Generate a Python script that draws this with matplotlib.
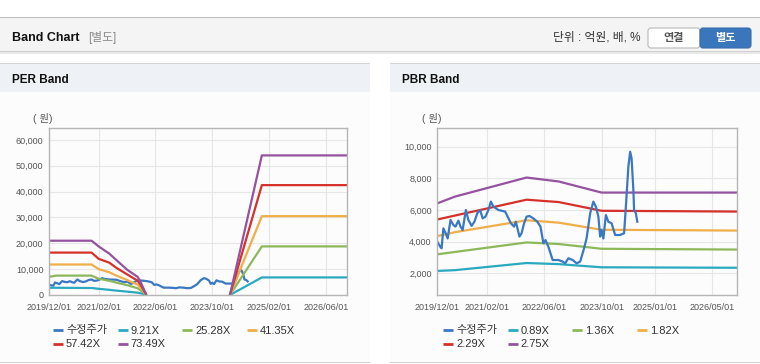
import numpy as np
import matplotlib
matplotlib.use('Agg')
import matplotlib.pyplot as plt
from matplotlib.patches import Rectangle, FancyBboxPatch
from matplotlib.ticker import FuncFormatter

plt.rcParams['font.family'] = ['Liberation Sans', 'Noto Sans CJK KR', 'DejaVu Sans']

# months since 2019/12/01
price_m = [0, 0.75, 1.2, 1.7, 2.4, 2.9, 3.7, 4.5, 5.1, 5.9, 6.5, 7.1, 8.0, 8.7, 9.6, 10.4,
           11.2, 12.0, 12.7, 13.5, 14.3, 15.0, 15.7, 17.1, 19.0, 19.7, 20.6, 21.5, 22.0,
           23.0, 23.6, 24.3, 25.0, 25.8, 26.9, 28.0, 28.9, 29.7, 30.3, 31.1, 32.3, 33.9,
           35.1, 35.8, 36.7, 37.9, 39.0, 40.0, 41.1, 41.8, 42.8, 43.7, 44.4, 45.1, 45.6,
           46.0, 46.5, 47.2, 47.9, 48.8, 49.8, 51.2, 52.3, 52.8, 53.5, 54.0, 54.4, 54.9,
           55.1, 55.6, 56.0]
price = [4000, 3700, 3580, 4840, 4500, 4200, 5370, 5050, 4950, 5330, 4950, 4740, 6000, 5370,
         5000, 5260, 5800, 6000, 5470, 5580, 6000, 6530, 6210, 6000, 5900, 5580, 5160, 4950,
         5260, 4320, 4530, 5160, 5580, 5620, 5470, 5260, 4950, 3900, 4100, 3680, 2840, 2840,
         2740, 2630, 2950, 2840, 2630, 2740, 3580, 4210, 5790, 6530, 6210, 5580, 4320, 4740,
         4200, 5680, 5260, 5160, 4420, 4420, 4530, 6210, 8740, 9680, 9260, 7260, 6000, 5790,
         5260]

# PER band
per_m = [0, 2, 12, 14, 17, 19, 22, 25, 26, 27.3, 27.4, 51, 60, 84]
per_labels = ['9.21X', '25.28X', '41.35X', '57.42X', '73.49X']
per_921 = [2800, 2800, 2700, 2400, 2000, 1700, 1300, 900, 600, 100, None, 0, 6800, 6800]
per_2528 = [7000, 7500, 7500, 6300, 5500, 4800, 3800, 2600, 1600, 200, None, 0, 18800, 18800]
per_4135 = [11800, 11800, 11800, 10000, 8800, 7500, 5800, 4000, 2500, 300, None, 0, 30500, 30500]
per_5742 = [16400, 16400, 16400, 14000, 12500, 10500, 8000, 5500, 3500, 400, None, 0, 42500, 42500]
per_7349 = [21000, 21000, 21000, 18800, 16000, 13500, 9800, 7000, 4500, 500, None, 0, 54000, 54000]

# PBR band
pbr_m = [0, 5, 25, 34, 46, 84]
pbr_labels = ['0.89X', '1.36X', '1.82X', '2.29X', '2.75X']
pbr_089 = [2150, 2200, 2650, 2580, 2380, 2350]
pbr_136 = [3200, 3350, 3950, 3850, 3550, 3500]
pbr_182 = [4350, 4600, 5350, 5200, 4750, 4700]
pbr_229 = [5400, 5650, 6650, 6500, 5950, 5900]
pbr_275 = [6420, 6850, 8050, 7800, 7100, 7100]

per_ticks = [0, 14, 30, 46, 62, 78]
per_ticklabels = ['2019/12/01', '2021/02/01', '2022/06/01', '2023/10/01', '2025/02/01', '2026/06/01']
pbr_ticks = [0, 14, 30, 46, 61, 77]
pbr_ticklabels = ['2019/12/01', '2021/02/01', '2022/06/01', '2023/10/01', '2025/01/01', '2026/05/01']

price_label = '수정주가'
colors = ['#3a78c4', '#2aa9bf', '#8db85a', '#f0ae48', '#d6302a', '#94529f']

W, H = 760, 364
fig = plt.figure(figsize=(W / 100, H / 100), dpi=100)
fig.patch.set_facecolor('white')

bg = fig.add_axes([0, 0, 1, 1], zorder=-1)
bg.set_xlim(0, W)
bg.set_ylim(H, 0)
bg.axis('off')


def rect(x0, y0, x1, y1, color, **kw):
    bg.add_patch(Rectangle((x0, y0), x1 - x0, y1 - y0, facecolor=color, edgecolor='none', **kw))


# top header
rect(0, 17, W, 18, '#bcbcbc')
rect(0, 18, W, 51, '#f4f4f4')
rect(0, 51, W, 52, '#cfcfcf')
rect(0, 52, W, 53.5, '#e9e9e9')
bg.text(12, 38, 'Band Chart', fontsize=9, fontweight='bold', va='center', color='#111')
bg.text(88, 38, '[별도]', fontsize=8.5, va='center', color='#8a8a8a')
bg.text(553, 38, '단위 : 억원, 배, %', fontsize=8.5, va='center', color='#333')
bg.add_patch(FancyBboxPatch((648, 28), 52, 20, boxstyle='round,pad=0,rounding_size=3',
                            facecolor='white', edgecolor='#b8b8b8', lw=0.8))
bg.add_patch(FancyBboxPatch((700, 28), 51, 20, boxstyle='round,pad=0,rounding_size=3',
                            facecolor='#3a76bb', edgecolor='#3a6ea8', lw=0.8))
bg.text(674, 38.5, '연결', fontsize=8, fontweight='bold', ha='center', va='center', color='#555')
bg.text(725.5, 38.5, '별도', fontsize=8, fontweight='bold', ha='center', va='center', color='white')

# panels
for x0, x1, title in [(0, 370, 'PER Band'), (390, W, 'PBR Band')]:
    rect(x0, 63, x1, 64, '#d4d4d4')
    rect(x0, 64, x1, 92, '#eef2f7')
    rect(x0, 92, x1, 362, '#fcfcfc')
    rect(x0, 362, x1, 363, '#d0d0d0')
    bg.text(x0 + 12, 80, title, fontsize=8.5, fontweight='bold', va='center', color='#111')


def fmt(v, pos):
    return f'{int(v):,}'


def setup(ax, ticks, ticklabels, yticks, ylim):
    ax.set_facecolor('#fcfcfc')
    ax.set_xlim(0, 84)
    ax.set_ylim(*ylim)
    ax.set_xticks(ticks)
    ax.set_xticklabels(ticklabels)
    ax.set_yticks(yticks)
    ax.yaxis.set_major_formatter(FuncFormatter(fmt))
    ax.tick_params(length=0, labelsize=6.5, labelcolor='#555')
    ax.tick_params(axis='x', pad=6)
    ax.tick_params(axis='y', pad=4)
    ax.grid(True, color='#e6e6e6', lw=0.8)
    ax.set_axisbelow(True)
    for s in ax.spines.values():
        s.set_color('#b5b5b5')
        s.set_linewidth(1)


def fa(x0, y0, x1, y1):
    return [x0 / W, 1 - y1 / H, (x1 - x0) / W, (y1 - y0) / H]


ax1 = fig.add_axes(fa(49, 128, 347, 295))
setup(ax1, per_ticks, per_ticklabels, range(0, 60001, 10000), (0, 64600))
per_series = [per_921, per_2528, per_4135, per_5742, per_7349]
ax1.plot(price_m, price, color=colors[0], lw=1.6)
for vals, c in zip(per_series, colors[1:]):
    ax1.plot(per_m, np.array(vals, dtype=float), color=c, lw=1.6)

ax2 = fig.add_axes(fa(437.3, 128.3, 737.3, 295))
setup(ax2, pbr_ticks, pbr_ticklabels, range(2000, 10001, 2000), (630, 11160))
pbr_series = [pbr_089, pbr_136, pbr_182, pbr_229, pbr_275]
for vals, c in zip(pbr_series, colors[1:]):
    ax2.plot(pbr_m, vals, color=c, lw=1.6)
ax2.plot(price_m, price, color=colors[0], lw=1.6)

bg.text(33, 118, '( 원)', fontsize=7.5, va='center', color='#555')
bg.text(422, 118, '( 원)', fontsize=7.5, va='center', color='#555')

# legends
for x_start, labels in [(53, per_labels), (443, pbr_labels)]:
    for i, (lab, c) in enumerate(zip([price_label] + labels, colors)):
        col, row = i % 4, i // 4
        x = x_start + col * 64.7
        y = 330 + row * 13.5
        bg.plot([x, x + 10], [y, y], color=c, lw=2, solid_capstyle='butt')
        bg.text(x + 13, y + 0.5, lab, fontsize=8, va='center', color='#333')

fig.savefig('out.png', dpi=100)
